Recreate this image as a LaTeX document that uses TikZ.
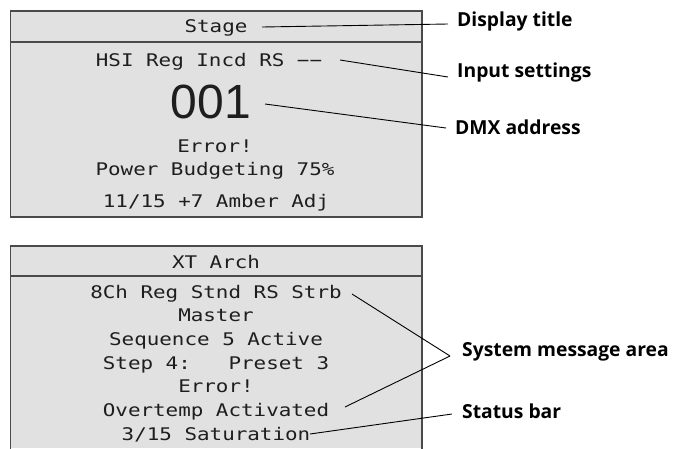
\documentclass[tikz,border=0pt]{standalone}
\usepackage{fontspec}
\newfontfamily\lcdfont[FakeStretch=1.2]{DejaVu Sans Mono}
\newfontfamily\bigfont{Liberation Sans}
\newfontfamily\lblfont{Open Sans}
\definecolor{panel}{HTML}{E1E1E1}
\definecolor{frame}{HTML}{4A4A4A}
\definecolor{lcdtext}{HTML}{1E1E1E}
\tikzset{
  lcd/.style={anchor=base, inner sep=0pt, text=lcdtext, font=\lcdfont\fontsize{17.4}{20}\selectfont},
  bigdig/.style={anchor=base, inner sep=0pt, text=lcdtext, font=\bigfont\fontsize{48}{50}\selectfont},
  callout/.style={anchor=west, inner xsep=9pt, inner ysep=0pt, font=\lblfont\bfseries\fontsize{19.3}{22}\selectfont},
  leader/.style={draw=black, line width=0.9pt},
  border/.style={draw=frame, line width=1.3pt}
}
\begin{document}
\begin{tikzpicture}[x=1pt,y=-1pt]
\useasboundingbox (0,0) rectangle (673,448);
% panel 1
\fill[panel] (10.5,11) rectangle (422,217);
\draw[border] (10.5,11) rectangle (422,217);
\draw[border] (10.5,42) -- (422,42);
% panel 2
\fill[panel] (10.5,246) rectangle (422,448);
\draw[border] (10.5,449) -- (10.5,246) -- (422,246) -- (422,449);
\draw[border] (10.5,276) -- (422,276);
% panel 1 text
\node[lcd] (stage) at (216,32) {Stage};
\node[lcd] (hsi) at (209,66) {HSI Reg Incd RS −−};
\node[bigdig] (addr) at (211,118) {001};
\node[lcd] (err1) at (215,152) {Error!};
\node[lcd] (pwr) at (215,175) {Power Budgeting 75\%};
\node[lcd] (amb) at (216,207) {11/15 +7 Amber Adj};
% panel 2 text
\node[lcd] (xt) at (216,268) {XT Arch};
\node[lcd] (ch) at (216,298) {8Ch Reg Stnd RS Strb};
\node[lcd] (mst) at (216,321.5) {Master};
\node[lcd] (seq) at (216,345) {Sequence 5 Active};
\node[lcd] (stp) at (216,369) {Step 4:\ \ \ Preset 3};
\node[lcd] (err2) at (216,392.5) {Error!};
\node[lcd] (ovt) at (216,416) {Overtemp Activated};
\node[lcd] (sat) at (216,440) {3/15 Saturation};
% callout labels
\node[callout] (dt) at (448,21) {Display title};
\node[callout] (ins) at (448,72) {Input settings};
\node[callout] (dmx) at (446,127) {DMX address};
\node[callout, inner xsep=12pt] (sma) at (450,352) {System message area};
\node[callout, inner xsep=10pt] (sb) at (452,411) {Status bar};
% leader start points
\coordinate (s1) at (262,27);
\coordinate (s2) at (340,60);
\coordinate (s3) at (265,104);
\coordinate (s4) at (352,294);
\coordinate (s5) at (345,407);
\coordinate (s6) at (310,434);
% leaders
\draw[leader] (s1) -- ([yshift=-3pt]dt.west);
\draw[leader] (s2) -- ([yshift=-5pt]ins.west);
\draw[leader] (s3) -- ([yshift=-1pt]dmx.west);
\draw[leader] (s4) -- ([yshift=-4pt]sma.west);
\draw[leader] (s5) -- ([yshift=-4pt]sma.west);
\draw[leader] (s6) -- ([yshift=-3pt]sb.west);
\end{tikzpicture}
\end{document}
